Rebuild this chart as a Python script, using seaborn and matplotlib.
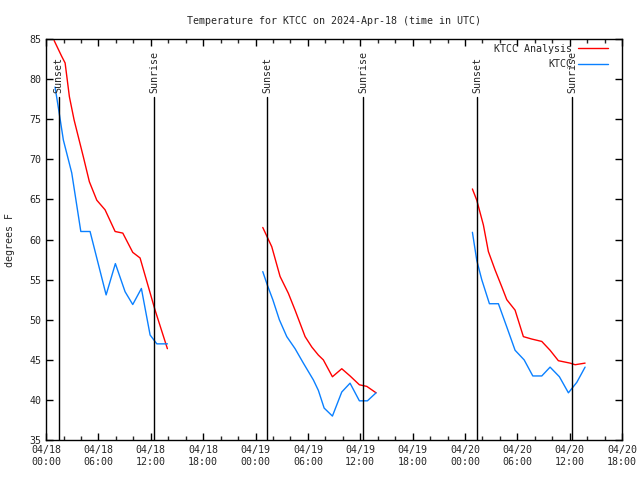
import pandas as pd
import matplotlib
matplotlib.use("Agg")
import matplotlib.pyplot as plt
from matplotlib.lines import Line2D
import seaborn as sns

# hours since 04/18 00:00 UTC, temperatures in F
analysis_hours = [
    [0.92, 1.80, 2.18, 2.67, 3.21, 4.27, 4.96, 5.81, 6.76, 7.91, 8.79, 9.93, 10.77, 12.49, 13.90],
    [24.83, 25.86, 26.81, 27.76, 28.53, 29.68, 30.45, 31.20, 31.77, 32.81, 33.88, 34.83, 35.90, 36.75, 37.81],
    [48.85, 49.35, 50.11, 50.68, 51.45, 52.22, 52.79, 53.74, 54.69, 55.65, 56.80, 57.75, 58.70, 60.04, 60.62, 61.76],
]
analysis_temps = [
    [84.8, 82.8, 82.0, 77.8, 74.9, 70.3, 67.2, 64.9, 63.7, 61.0, 60.8, 58.4, 57.7, 51.2, 46.4],
    [61.5, 59.1, 55.4, 53.3, 51.2, 47.9, 46.6, 45.6, 45.0, 42.9, 43.9, 43.0, 41.9, 41.7, 40.9],
    [66.3, 64.9, 61.8, 58.5, 56.2, 54.1, 52.5, 51.2, 47.9, 47.6, 47.3, 46.2, 44.9, 44.6, 44.4, 44.6],
]
obs_hours = [
    [1.03, 1.41, 1.98, 2.94, 3.98, 5.04, 6.88, 7.94, 9.05, 9.93, 10.92, 11.92, 12.69, 13.90],
    [24.83, 25.36, 25.98, 26.73, 27.58, 28.53, 29.48, 30.63, 31.20, 31.86, 32.81, 33.88, 34.83, 35.90, 36.82, 37.81],
    [48.85, 49.35, 49.92, 50.80, 51.83, 52.79, 53.74, 54.78, 55.77, 56.80, 57.75, 58.82, 59.85, 60.81, 61.76],
]
obs_temps = [
    [79.0, 76.4, 72.4, 68.3, 61.0, 61.0, 53.1, 57.0, 53.5, 51.9, 53.9, 48.1, 47.0, 47.0],
    [56.0, 54.3, 52.5, 50.0, 47.9, 46.4, 44.6, 42.5, 41.2, 39.0, 38.0, 41.0, 42.1, 39.9, 39.9, 40.9],
    [60.9, 57.4, 55.0, 52.0, 52.0, 49.1, 46.2, 45.0, 43.0, 43.0, 44.1, 42.9, 40.9, 42.2, 44.1],
]

sun_events = ["Sunset", "Sunrise", "Sunset", "Sunrise", "Sunset", "Sunrise"]
sun_hours = [1.43, 12.4, 25.3, 36.3, 49.4, 60.3]

tick_hours = [0, 6, 12, 18, 24, 30, 36, 42, 48, 54, 60, 66]
tick_labels = ["04/18\n00:00", "04/18\n06:00", "04/18\n12:00", "04/18\n18:00",
               "04/19\n00:00", "04/19\n06:00", "04/19\n12:00", "04/19\n18:00",
               "04/20\n00:00", "04/20\n06:00", "04/20\n12:00", "04/20\n18:00"]

RED = "#ff0000"
BLUE = "#0a80ff"


def to_frame(hours, temps):
    rows = []
    for seg, (hs, ts) in enumerate(zip(hours, temps)):
        for h, t in zip(hs, ts):
            rows.append({"hour": h, "temp": t, "seg": seg})
    return pd.DataFrame(rows)


analysis = to_frame(analysis_hours, analysis_temps)
obs = to_frame(obs_hours, obs_temps)

sns.set_style("ticks")
plt.rcParams["font.family"] = ["DejaVu Sans Mono"]
plt.rcParams["font.size"] = 7.2

fig, ax = plt.subplots(figsize=(6.4, 4.8), dpi=100)
fig.subplots_adjust(left=0.072, right=0.972, bottom=0.083, top=0.919)

sns.lineplot(data=analysis, x="hour", y="temp", units="seg", estimator=None,
             sort=False, color=RED, lw=1, ax=ax, legend=False)
sns.lineplot(data=obs, x="hour", y="temp", units="seg", estimator=None,
             sort=False, color=BLUE, lw=1, ax=ax, legend=False)

# sunrise / sunset markers
for name, h in zip(sun_events, sun_hours):
    ax.axvline(h, ymax=0.855, color="black", lw=1)
    ax.text(h, 78.3, name, rotation=90, ha="center", va="bottom", fontsize=7.2)

ax.set_xlim(0, 66)
ax.set_ylim(35, 85)
ax.set_xticks(tick_hours)
ax.set_xticklabels(tick_labels)
ax.set_xticks(range(0, 67, 2), minor=True)
ax.set_yticks(range(35, 86, 5))
ax.tick_params(direction="in", top=True, right=True, length=5, width=1,
               labelsize=7.2, color="black")
ax.tick_params(which="minor", direction="in", top=True, length=3, width=1)
for s in ax.spines.values():
    s.set_linewidth(1)
    s.set_color("black")

ax.set_xlabel("")
ax.set_ylabel("degrees F", fontsize=7.2, labelpad=10)
ax.set_title("Temperature for KTCC on 2024-Apr-18 (time in UTC)", fontsize=7.2, pad=11)

handles = [Line2D([], [], color=RED, lw=1), Line2D([], [], color=BLUE, lw=1)]
ax.legend(handles, ["KTCC Analysis", "KTCC"], loc="upper right", frameon=False,
          markerfirst=False, handlelength=3.0, fontsize=7.2, borderaxespad=0.1,
          labelspacing=0.55, handletextpad=0.6, bbox_to_anchor=(0.985, 1.0))

plt.savefig("out.png", dpi=100)
